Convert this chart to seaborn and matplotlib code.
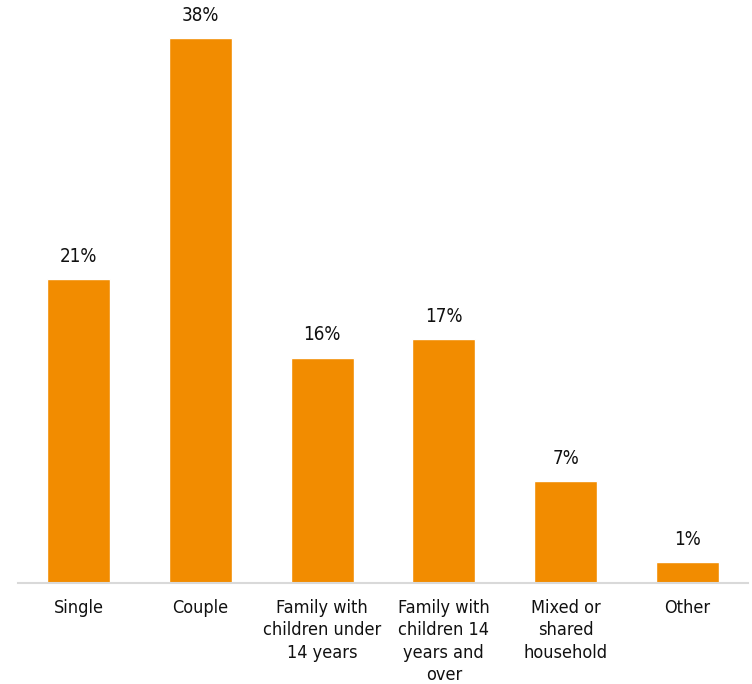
"""
Household type distribution - single bar chart, orange bars with % labels.
"""

import matplotlib
matplotlib.use("Agg")
import matplotlib.pyplot as plt
import seaborn as sns

# ── Data ──────────────────────────────────────────────────────────────────────
categories = ["Single", "Couple", "Family with\nchildren under\n14 years",
              "Family with\nchildren 14\nyears and\nover", "Mixed or\nshared\nhousehold",
              "Other"]
shares = [21.2, 38.0, 15.7, 17.0, 7.1, 1.4]
share_labels = ["21%", "38%", "16%", "17%", "7%", "1%"]

ORANGE = "#F28C00"
GRID   = "#D9D9D9"
TXT    = "#111111"

sns.set_style("white")
plt.rcParams["font.family"] = ["DejaVu Sans"]
plt.rcParams["font.stretch"] = "condensed"

# ── Figure ────────────────────────────────────────────────────────────────────
fig = plt.figure(figsize=(7.52, 6.84), dpi=100, facecolor="white")
ax = fig.add_axes([18 / 752, 101.5 / 684, 730 / 752, 582.5 / 684])

sns.barplot(x=categories, y=shares, color=ORANGE, saturation=1,
            width=0.52, ax=ax)

ax.bar_label(ax.containers[0], labels=share_labels, padding=9.5,
             fontsize=13.5, color=TXT)

ax.set_xlim(-0.5, 5.5)
ax.set_ylim(0, 40.67)
ax.set_yticks([])
ax.set_ylabel("")
for side in ["left", "right", "top"]:
    ax.spines[side].set_visible(False)
ax.spines["bottom"].set_color(GRID)
ax.spines["bottom"].set_linewidth(1.5)

ax.tick_params(axis="x", length=0, pad=12, labelsize=13, labelcolor=TXT)
for lbl in ax.get_xticklabels():
    lbl.set_linespacing(1.3)
    lbl.set_multialignment("center")

fig.savefig("out.png", dpi=100, facecolor="white")
plt.close(fig)
